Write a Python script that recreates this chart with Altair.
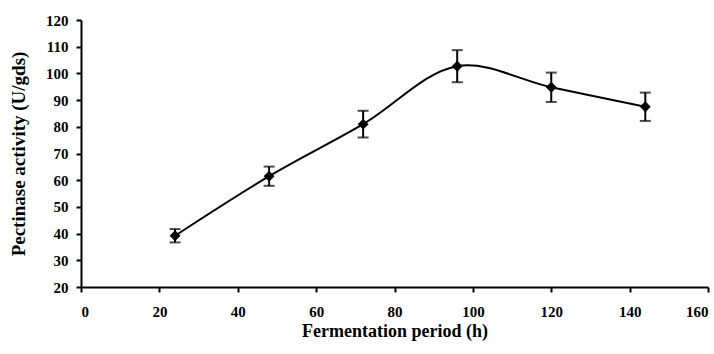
import altair as alt
import pandas as pd

# Pectinase activity over fermentation time (mean ± SD)
hours = [24, 48, 72, 96, 120, 144]
activity = [39.2, 61.5, 81.0, 102.7, 94.8, 87.5]
sd = [2.5, 3.6, 5.0, 6.0, 5.5, 5.3]

df = pd.DataFrame({"hours": hours, "activity": activity, "sd": sd})
df["lo"] = df["activity"] - df["sd"]
df["hi"] = df["activity"] + df["sd"]

FONT = "Liberation Serif"

x_scale = alt.Scale(domain=[0, 160])
x_axis = alt.Axis(
    title="Fermentation period (h)",
    values=list(range(0, 161, 20)),
    labelOverlap=False,
    titlePadding=3,
    titleFontSize=18,
    labelPadding=12,
)
y_scale = alt.Scale(domain=[20, 120])
y_axis = alt.Axis(
    title="Pectinase activity (U/gds)",
    values=list(range(20, 121, 10)),
    labelOverlap=False,
    titlePadding=17,
    titleFontSize=19,
    labelPadding=8,
)


def X():
    return alt.X("hours:Q", scale=x_scale, axis=x_axis)


def Y(field):
    return alt.Y(f"{field}:Q", scale=y_scale, axis=y_axis)


base = alt.Chart(df)

line = base.mark_line(color="black", strokeWidth=2, interpolate="catmull-rom").encode(
    x=X(), y=Y("activity")
)
bars = base.mark_rule(color="black", strokeWidth=2).encode(x=X(), y=Y("lo"), y2="hi:Q")
cap_lo = base.mark_tick(color="black", thickness=2, size=11, orient="horizontal").encode(
    x=X(), y=Y("lo")
)
cap_hi = base.mark_tick(color="black", thickness=2, size=11, orient="horizontal").encode(
    x=X(), y=Y("hi")
)
points = base.mark_point(shape="diamond", filled=True, color="black", size=120, opacity=1).encode(
    x=X(), y=Y("activity")
)

chart = (
    alt.layer(line, bars, cap_lo, cap_hi, points)
    .properties(
        width=627,
        height=267,
        autosize=alt.AutoSizeParams(type="none"),
        padding={"left": 81, "top": 20, "right": 6, "bottom": 67},
        background="white",
    )
    .configure_view(stroke=None)
    .configure_axis(
        grid=False,
        domainColor="black",
        domainWidth=2,
        tickColor="black",
        tickWidth=2,
        tickSize=5,
        labelFont=FONT,
        labelFontSize=15,
        labelFontWeight="bold",
        labelColor="black",
        titleFont=FONT,
        titleFontWeight="bold",
        titleColor="black",
    )
)

chart.save("out.html", embed_options={"renderer": "svg", "actions": False})
